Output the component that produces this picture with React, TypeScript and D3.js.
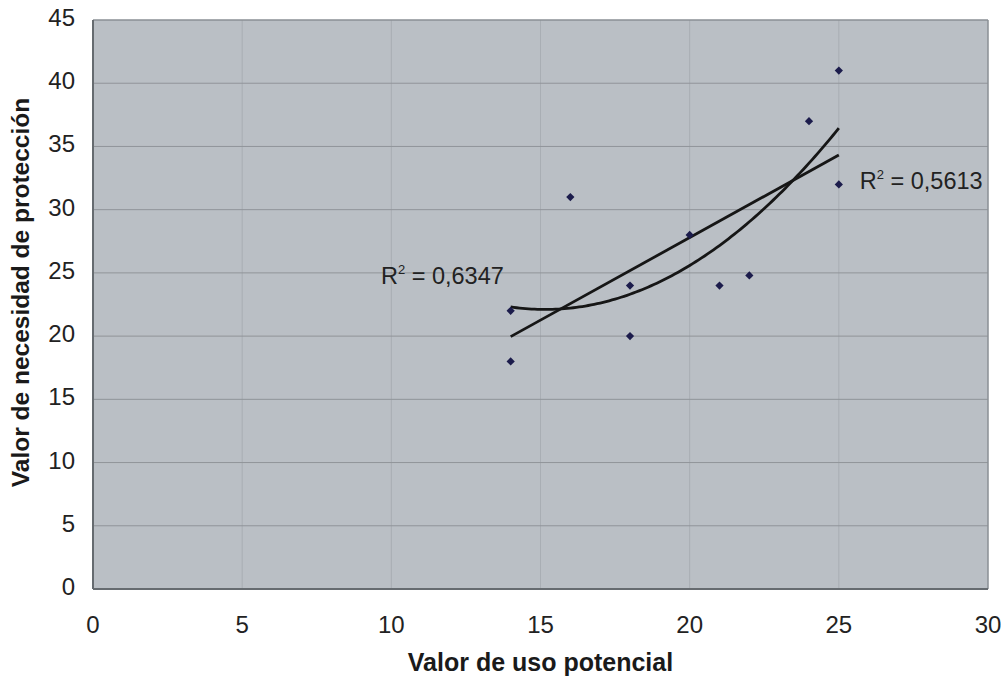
import React from 'react';
import * as d3 from 'd3';

// valores
const usoPotencial = [14, 14, 16, 18, 18, 20, 21, 22, 24, 25, 25];
const necesidadProteccion = [18, 22, 31, 24, 20, 28, 24, 24.8, 37, 41, 32];
const xTicks = [0, 5, 10, 15, 20, 25, 30];
const yTicks = [0, 5, 10, 15, 20, 25, 30, 35, 40, 45];
const r2Lineal = '0,5613';
const r2Poli = '0,6347';

const W = 1001;
const H = 680;
const margin = { top: 20, right: 13, bottom: 91, left: 93 };
const FONT = '"Liberation Sans", Arial, sans-serif';

// ajuste lineal por mínimos cuadrados
function fitLinear(xs: number[], ys: number[]) {
  const mx = d3.mean(xs)!;
  const my = d3.mean(ys)!;
  let sxy = 0;
  let sxx = 0;
  xs.forEach((x, i) => {
    sxy += (x - mx) * (ys[i] - my);
    sxx += (x - mx) * (x - mx);
  });
  const b = sxy / sxx;
  return (x: number) => my - b * mx + b * x;
}

// ajuste polinómico de grado 2
function fitQuad(xs: number[], ys: number[]) {
  const s = [0, 0, 0, 0, 0];
  const t = [0, 0, 0];
  xs.forEach((x, i) => {
    for (let k = 0; k < 5; k++) s[k] += Math.pow(x, k);
    for (let k = 0; k < 3; k++) t[k] += Math.pow(x, k) * ys[i];
  });
  const m = [
    [s[0], s[1], s[2], t[0]],
    [s[1], s[2], s[3], t[1]],
    [s[2], s[3], s[4], t[2]],
  ];
  for (let c = 0; c < 3; c++) {
    for (let r = c + 1; r < 3; r++) {
      const f = m[r][c] / m[c][c];
      for (let k = c; k < 4; k++) m[r][k] -= f * m[c][k];
    }
  }
  const coef = [0, 0, 0];
  for (let r = 2; r >= 0; r--) {
    let v = m[r][3];
    for (let k = r + 1; k < 3; k++) v -= m[r][k] * coef[k];
    coef[r] = v / m[r][r];
  }
  return (x: number) => coef[0] + coef[1] * x + coef[2] * x * x;
}

const App: React.FC = () => {
  const x = d3.scaleLinear().domain([0, 30]).range([margin.left, W - margin.right]);
  const y = d3.scaleLinear().domain([0, 45]).range([H - margin.bottom, margin.top]);

  const pts = usoPotencial.map((u, i) => ({ x: u, y: necesidadProteccion[i] }));
  const [xmin, xmax] = d3.extent(usoPotencial) as [number, number];
  const lin = fitLinear(usoPotencial, necesidadProteccion);
  const quad = fitQuad(usoPotencial, necesidadProteccion);

  const linPath = d3
    .line<number>()
    .x((d) => x(d))
    .y((d) => y(lin(d)))([xmin, xmax]);
  const quadPath = d3
    .line<number>()
    .x((d) => x(d))
    .y((d) => y(quad(d)))(d3.range(xmin, xmax + 0.001, 0.1));

  // rombo tipo Excel: cuadrado girado 45°
  const marker = d3.symbol().type(d3.symbolSquare).size(34)();

  const x0 = x(0);
  const x1 = x(30);
  const y0 = y(0);
  const y1 = y(45);

  return (
    <svg width={W} height={H} style={{ position: 'absolute', left: 0, top: 0, background: '#fff' }}>
      <rect x={x0} y={y1} width={x1 - x0} height={y0 - y1} fill="#babfc5" />
      {/* rejilla */}
      {xTicks.slice(1, -1).map((t) => (
        <line key={'vx' + t} x1={x(t)} x2={x(t)} y1={y1} y2={y0} stroke="#a9aeb4" strokeWidth={1} />
      ))}
      {yTicks.slice(1, -1).map((t) => (
        <line key={'hy' + t} x1={x0} x2={x1} y1={y(t)} y2={y(t)} stroke="#909499" strokeWidth={1} />
      ))}
      {/* marco */}
      <line x1={x0} x2={x1} y1={y1} y2={y1} stroke="#8a8f95" strokeWidth={1.5} />
      <line x1={x1} x2={x1} y1={y1} y2={y0} stroke="#8a8f95" strokeWidth={1.5} />
      <line x1={x0} x2={x0} y1={y1} y2={y0} stroke="#666b70" strokeWidth={2} />
      <line x1={x0} x2={x1} y1={y0} y2={y0} stroke="#666b70" strokeWidth={2} />

      {/* tendencias */}
      <path d={linPath ?? ''} fill="none" stroke="#161616" strokeWidth={2.8} />
      <path d={quadPath ?? ''} fill="none" stroke="#161616" strokeWidth={2.8} />

      {/* puntos */}
      {pts.map((p, i) => (
        <path
          key={i}
          d={marker ?? ''}
          transform={`translate(${x(p.x)},${y(p.y)}) rotate(45)`}
          fill="#1c1c4c"
        />
      ))}

      {/* etiquetas de ejes */}
      <g fontFamily={FONT} fontSize={24} fill="#222">
        {yTicks.map((t) => (
          <text key={'yt' + t} x={x0 - 18} y={y(t) + 6} textAnchor="end">
            {t}
          </text>
        ))}
        {xTicks.map((t) => (
          <text key={'xt' + t} x={x(t)} y={y0 + 44} textAnchor="middle">
            {t}
          </text>
        ))}
      </g>

      {/* R² */}
      <g fontFamily={FONT} fontSize={23.5} fill="#222">
        <text x={x(9.65)} y={y(24.1)}>
          R<tspan fontSize={13} dy={-10}>2</tspan>
          <tspan dy={10}> = {r2Poli}</tspan>
        </text>
        <text x={x(25.7)} y={y(31.6)}>
          R<tspan fontSize={13} dy={-10}>2</tspan>
          <tspan dy={10}> = {r2Lineal}</tspan>
        </text>
      </g>

      <text
        x={(x0 + x1) / 2}
        y={671}
        textAnchor="middle"
        fontFamily={FONT}
        fontWeight="bold"
        fontSize={25}
        fill="#1a1a1a"
      >
        Valor de uso potencial
      </text>
      <text
        transform={`translate(29,${(y0 + y1) / 2 - 12}) rotate(-90)`}
        textAnchor="middle"
        fontFamily={FONT}
        fontWeight="bold"
        fontSize={24.5}
        fill="#1a1a1a"
      >
        Valor de necesidad de protección
      </text>
    </svg>
  );
};

export default App;
